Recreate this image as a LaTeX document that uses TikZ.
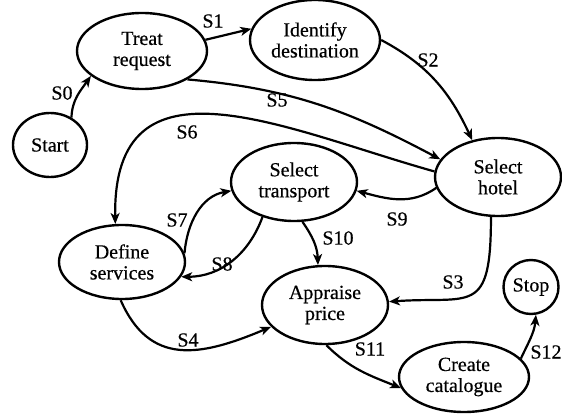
\documentclass[tikz,border=0pt]{standalone}
\usepackage{fontspec}
\setmainfont{Liberation Serif}[FakeBold=0.5]
\usetikzlibrary{shapes.geometric,arrows.meta}
\begin{document}
\begin{tikzpicture}[x=1pt,y=1pt,
  stnode/.style={ellipse,draw,line width=2.4pt,inner sep=0pt,align=center,
    font=\fontsize{20}{21}\selectfont},
  trans/.style={line width=2.2pt,-{Stealth[length=11pt,width=9pt,inset=3pt]}},
  lbl/.style={font=\fontsize{20}{21}\selectfont,inner sep=0pt}]
\useasboundingbox (0,0) rectangle (562,-414);

% states
\node[stnode,minimum width=74pt,minimum height=64pt]  (start) at (50,-145) {Start};
\node[stnode,minimum width=130pt,minimum height=76pt] (treat) at (142,-51) {Treat\\request};
\node[stnode,minimum width=130pt,minimum height=80pt] (ident) at (315,-40) {Identify\\destination};
\node[stnode,minimum width=126pt,minimum height=78pt] (hotel) at (498,-177) {Select\\hotel};
\node[stnode,minimum width=126pt,minimum height=78pt] (trans) at (294,-182) {Select\\transport};
\node[stnode,minimum width=126pt,minimum height=74pt] (defsv) at (122,-262) {Define\\services};
\node[stnode,minimum width=126pt,minimum height=78pt] (apprs) at (325,-305) {Appraise\\price};
\node[stnode,minimum width=130pt,minimum height=70pt] (catal) at (464,-377) {Create\\catalogue};
\node[stnode,minimum width=55pt,minimum height=54pt]  (stop)  at (531,-287) {Stop};

% transitions
\draw[trans] (start.52) to[out=88,in=235] (treat.206);
\draw[trans] (treat.10) -- (ident.170);
\draw[trans] (ident.0) to[out=-28,in=115] (hotel.125);
\draw[trans] (treat.-32) to[out=-5,in=152] (hotel.163);
\draw[trans] (hotel.175) .. controls +(-150,42) and +(-3,178) .. (defsv.100);
\draw[trans] (hotel.190) to[out=215,in=-15] (trans.-8);
\draw[trans] (hotel.-100) .. controls +(0,-100) and +(82,5.7) .. (apprs.3);
\draw[trans] (trans.-78) to[out=-55,in=92] (apprs.100);
\draw[trans] (defsv.8) to[out=85,in=190] (trans.188);
\draw[trans] (trans.-132) to[out=-110,in=0] (defsv.-14);
\draw[trans] (defsv.-92) .. controls +(29,-66) and +(-71,-30) .. (apprs.202);
\draw[trans] (apprs.-88) to[out=-45,in=158] (catal.190);
\draw[trans] (catal.18) to[out=65,in=-95] (stop.-80);

% transition labels
\node[lbl] (l0)  at (62,-93)  {S0};
\node[lbl] (l1)  at (213,-21) {S1};
\node[lbl] (l2)  at (428,-60) {S2};
\node[lbl] (l3)  at (453,-282) {S3};
\node[lbl] (l4)  at (188,-340) {S4};
\node[lbl] (l5)  at (277,-100) {S5};
\node[lbl] (l6)  at (187,-132) {S6};
\node[lbl] (l7)  at (177,-220) {S7};
\node[lbl] (l8)  at (222,-264) {S8};
\node[lbl] (l9)  at (397,-219) {S9};
\node[lbl] (l10) at (338,-238) {S10};
\node[lbl] (l11) at (370,-349) {S11};
\node[lbl] (l12) at (546,-352) {S12};
\end{tikzpicture}
\end{document}
